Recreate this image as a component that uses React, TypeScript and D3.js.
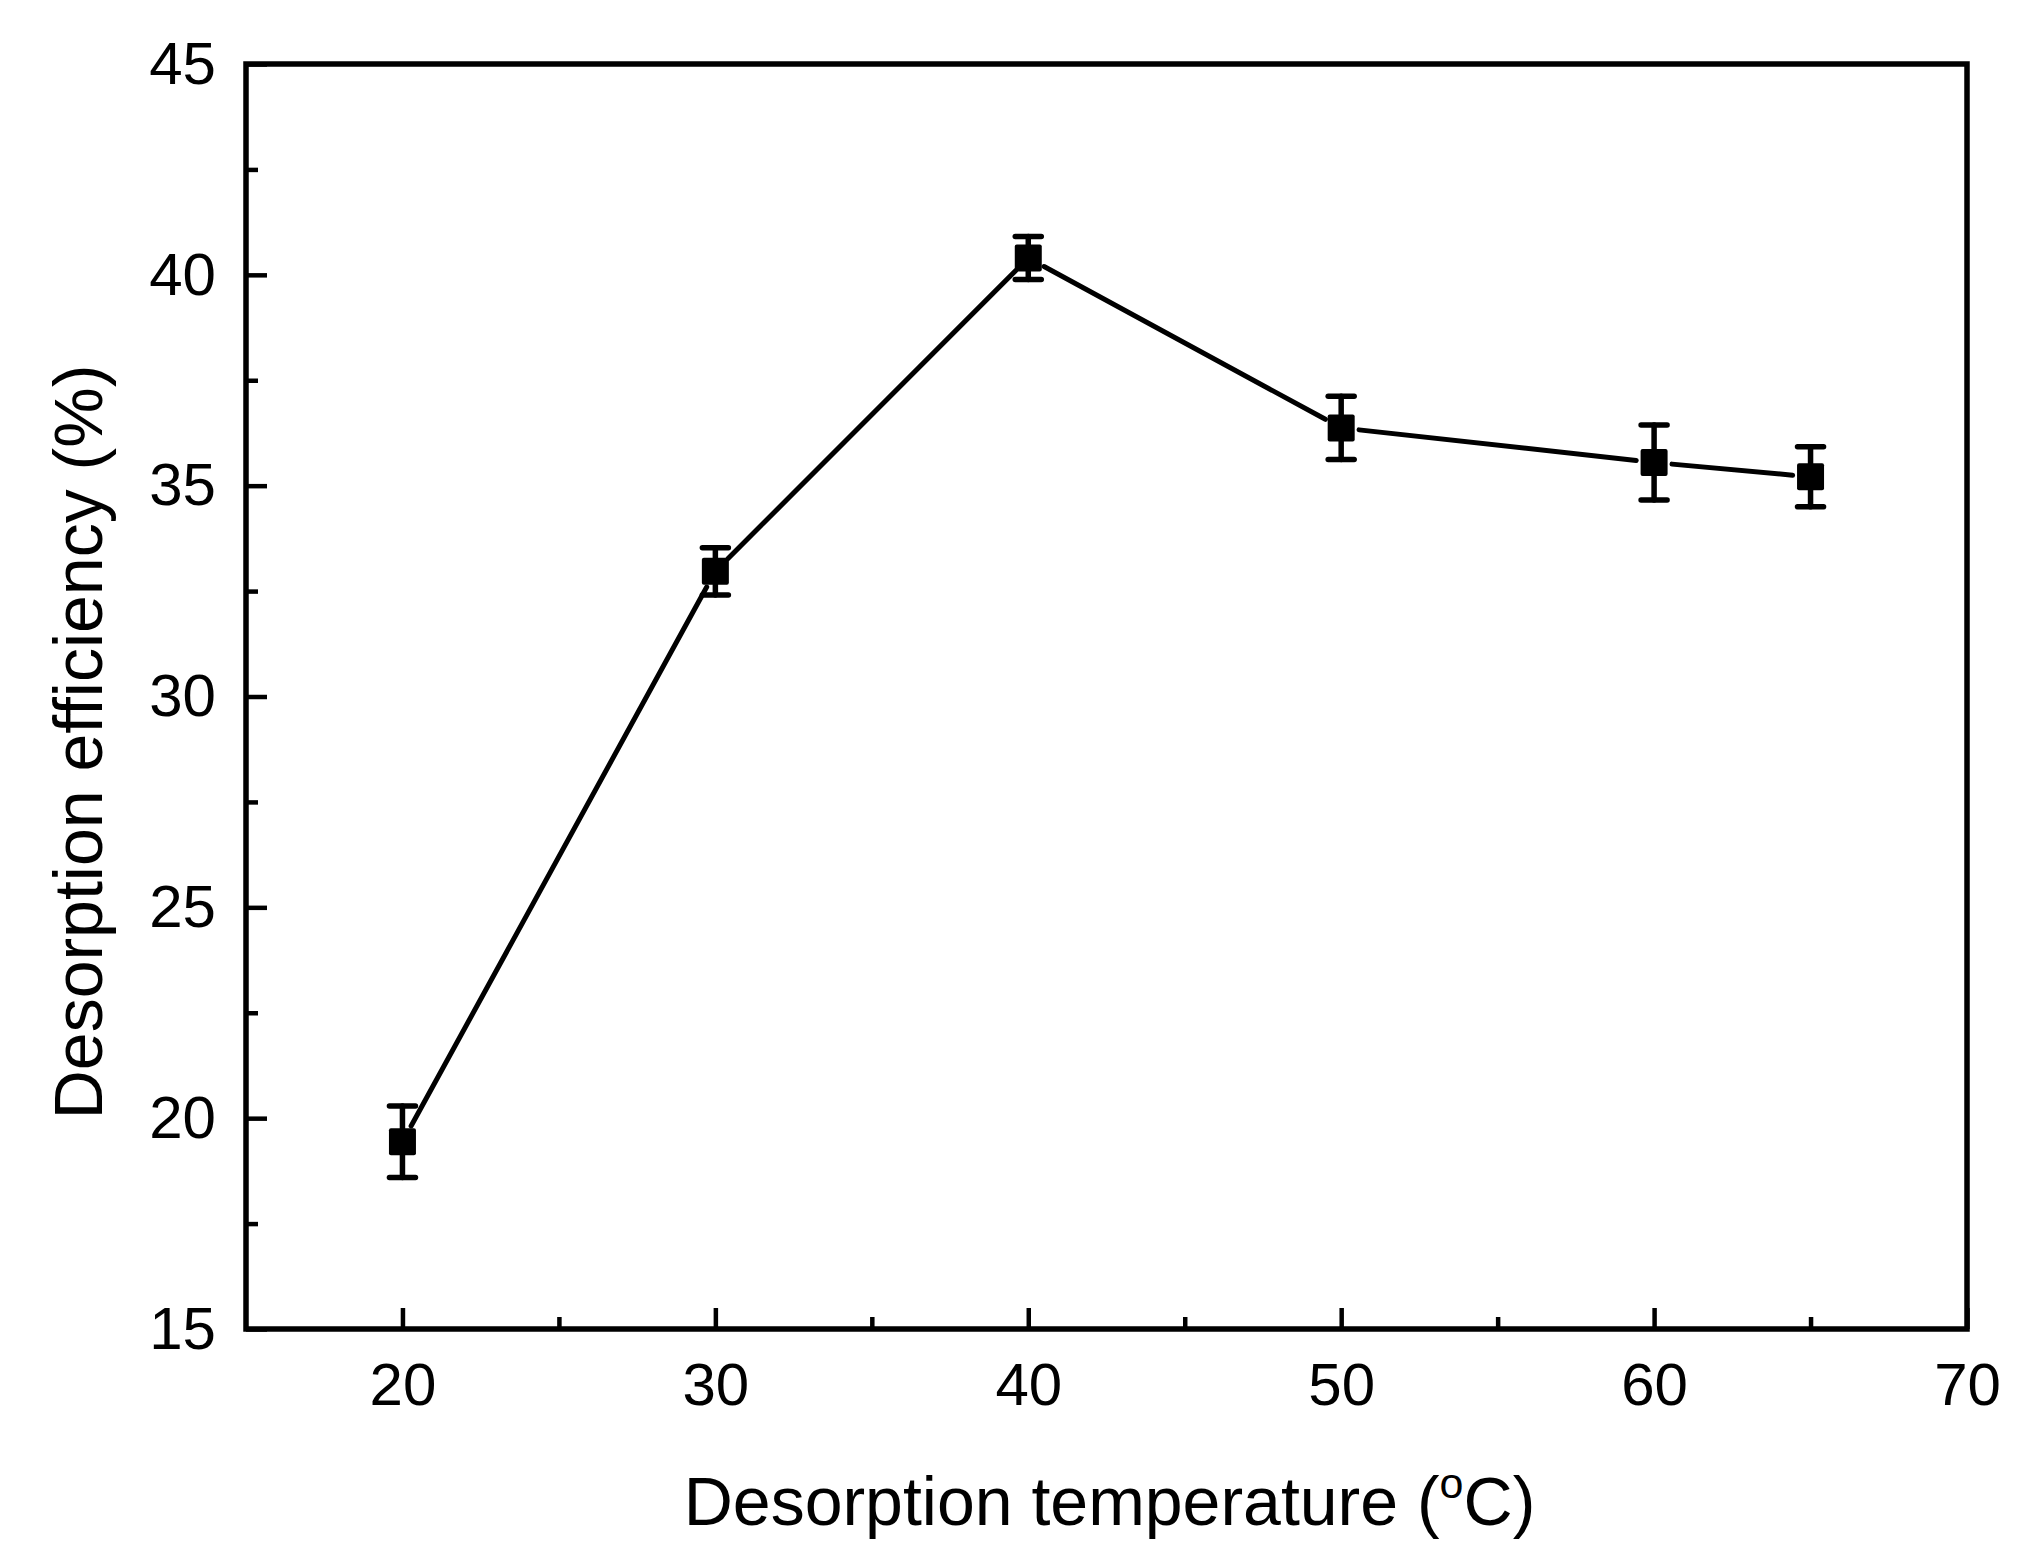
import React from "react";
import * as d3 from "d3";

const temperatures = [20, 30, 40, 50, 60, 65];
const efficiency = [19.44, 32.97, 40.4, 36.37, 35.55, 35.21];
const errors = [0.85, 0.56, 0.51, 0.75, 0.89, 0.71];

const xMajorTicks = [20, 30, 40, 50, 60, 70];
const xMinorTicks = [25, 35, 45, 55, 65];
const yMajorTicks = [15, 20, 25, 30, 35, 40, 45];
const yMinorTicks = [17.5, 22.5, 27.5, 32.5, 37.5, 42.5];

class DesorptionChart extends React.Component {
  componentDidMount() {
    this.createChart();
  }

  createChart() {
    var width = 2027,
      height = 1562;
    var left = 246,
      right = 1967,
      top = 64,
      bottom = 1329;
    var font = "'Liberation Sans', Arial, Helvetica, sans-serif";

    var svg = d3
      .select("#desorptionChart")
      .append("svg")
      .attr("width", width)
      .attr("height", height)
      .style("position", "absolute")
      .style("left", "0px")
      .style("top", "0px")
      .style("background", "#fff");

    var x = d3.scaleLinear().domain([15, 70]).range([left, right]);
    var y = d3.scaleLinear().domain([15, 45]).range([bottom, top]);

    // x axis (ticks point inward)
    var gx = svg
      .append("g")
      .attr("transform", "translate(0," + bottom + ")")
      .call(
        d3
          .axisBottom(x)
          .tickValues(xMajorTicks)
          .tickSize(-21)
          .tickSizeOuter(0)
          .tickPadding(33)
          .tickFormat(d3.format("d"))
      );
    gx.select(".domain").remove();
    gx.selectAll("line").attr("stroke", "#000").attr("stroke-width", 4.5);
    gx.selectAll("text")
      .attr("font-family", font)
      .attr("font-size", 60)
      .attr("fill", "#000");

    var gxm = svg
      .append("g")
      .attr("transform", "translate(0," + bottom + ")")
      .call(d3.axisBottom(x).tickValues(xMinorTicks).tickSize(-12).tickSizeOuter(0).tickFormat(() => ""));
    gxm.select(".domain").remove();
    gxm.selectAll("line").attr("stroke", "#000").attr("stroke-width", 4.5);

    // y axis
    var gy = svg
      .append("g")
      .attr("transform", "translate(" + left + ",0)")
      .call(
        d3
          .axisLeft(y)
          .tickValues(yMajorTicks)
          .tickSize(-21)
          .tickSizeOuter(0)
          .tickPadding(30)
          .tickFormat(d3.format("d"))
      );
    gy.select(".domain").remove();
    gy.selectAll("line").attr("stroke", "#000").attr("stroke-width", 4.5);
    gy.selectAll("text")
      .attr("font-family", font)
      .attr("font-size", 60)
      .attr("fill", "#000");

    var gym = svg
      .append("g")
      .attr("transform", "translate(" + left + ",0)")
      .call(d3.axisLeft(y).tickValues(yMinorTicks).tickSize(-12).tickSizeOuter(0).tickFormat(() => ""));
    gym.select(".domain").remove();
    gym.selectAll("line").attr("stroke", "#000").attr("stroke-width", 4.5);

    // frame
    svg
      .append("rect")
      .attr("x", left)
      .attr("y", top)
      .attr("width", right - left)
      .attr("height", bottom - top)
      .attr("fill", "none")
      .attr("stroke", "#000")
      .attr("stroke-width", 5.5);

    var points = temperatures.map((t, i) => ({ t: t, v: efficiency[i], e: errors[i] }));

    // connecting line, each segment stops short of the markers
    var gap = 18;
    for (var i = 0; i < points.length - 1; i++) {
      var x1 = x(points[i].t),
        y1 = y(points[i].v),
        x2 = x(points[i + 1].t),
        y2 = y(points[i + 1].v);
      var len = Math.hypot(x2 - x1, y2 - y1);
      var ux = (x2 - x1) / len,
        uy = (y2 - y1) / len;
      svg
        .append("line")
        .attr("x1", x1 + ux * gap)
        .attr("y1", y1 + uy * gap)
        .attr("x2", x2 - ux * gap)
        .attr("y2", y2 - uy * gap)
        .attr("stroke", "#000")
        .attr("stroke-width", 5)
        .attr("stroke-linecap", "round");
    }

    // error bars
    var bars = svg.append("g").attr("stroke", "#000").attr("stroke-width", 5.5).attr("stroke-linecap", "round");
    bars
      .selectAll("line.stem")
      .data(points)
      .enter()
      .append("line")
      .attr("class", "stem")
      .attr("x1", (d) => x(d.t))
      .attr("x2", (d) => x(d.t))
      .attr("y1", (d) => y(d.v + d.e))
      .attr("y2", (d) => y(d.v - d.e));
    [1, -1].forEach(function (s) {
      bars
        .selectAll("line.cap" + s)
        .data(points)
        .enter()
        .append("line")
        .attr("class", "cap" + s)
        .attr("x1", (d) => x(d.t) - 13)
        .attr("x2", (d) => x(d.t) + 13)
        .attr("y1", (d) => y(d.v + s * d.e))
        .attr("y2", (d) => y(d.v + s * d.e));
    });

    // square markers
    var size = 27;
    svg
      .selectAll("rect.marker")
      .data(points)
      .enter()
      .append("rect")
      .attr("class", "marker")
      .attr("x", (d) => x(d.t) - size / 2)
      .attr("y", (d) => y(d.v) - size / 2)
      .attr("width", size)
      .attr("height", size)
      .attr("rx", 2)
      .attr("fill", "#000");

    // axis titles
    var xt = svg
      .append("text")
      .attr("x", (left + right) / 2 + 3)
      .attr("y", 1525)
      .attr("text-anchor", "middle")
      .attr("font-family", font)
      .attr("font-size", 68)
      .attr("fill", "#000");
    xt.append("tspan").text("Desorption temperature (");
    xt.append("tspan").attr("font-size", 43).attr("dy", -27).text("o");
    xt.append("tspan").attr("dy", 27).text("C)");

    svg
      .append("text")
      .attr("transform", "translate(102,742) rotate(-90)")
      .attr("text-anchor", "middle")
      .attr("font-family", font)
      .attr("font-size", 68)
      .attr("fill", "#000")
      .text("Desorption efficiency (%)");
  }

  render() {
    return <div id="desorptionChart"></div>;
  }
}

export default function App() {
  return <DesorptionChart />;
}
